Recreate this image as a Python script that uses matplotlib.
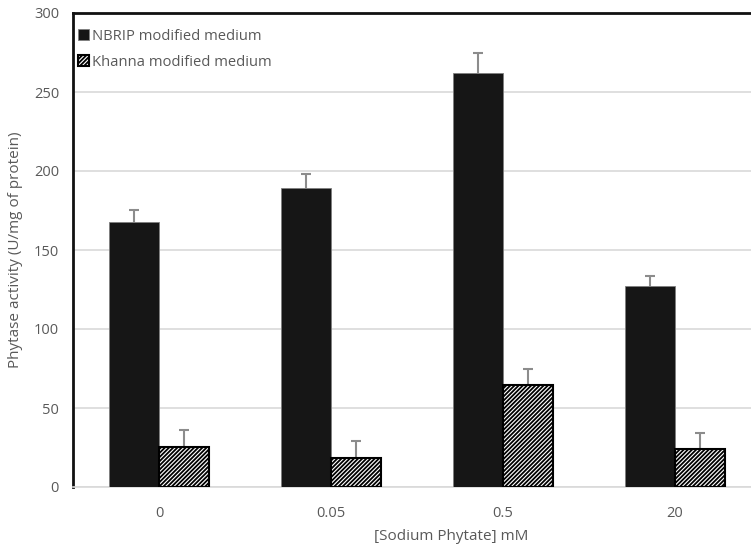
import numpy as np
import matplotlib
matplotlib.use("Agg")
import matplotlib.pyplot as plt

plt.rcParams["font.family"] = ["Open Sans", "DejaVu Sans"]
plt.rcParams["hatch.linewidth"] = 1.3

categories = ["0", "0.05", "0.5", "20"]
nbrip = [167.5, 189.3, 261.8, 127.5]
nbrip_err = [7.6, 9.0, 13.0, 6.2]
khanna = [25.6, 18.6, 64.4, 23.8]
khanna_err = [10.2, 10.2, 10.5, 10.6]

GRAY = "#595959"
ERR = "#8c8c8c"

fig = plt.figure(figsize=(7.51, 5.5), dpi=100)
ax = fig.add_axes([73 / 751, 1 - 487 / 550, 688 / 751, 474 / 550])

x = np.arange(len(categories))
w = 0.29
ax.bar(x - w / 2, nbrip, w, color="#161616", edgecolor="#7f7f7f", linewidth=0.6,
       label="NBRIP modified medium", zorder=3)
ax.bar(x + w / 2, khanna, w, color="white", edgecolor="black", hatch="////////",
       linewidth=1.5, label="Khanna modified medium", zorder=3)

# upper error bars only (stem + top cap)
for xs, ys, es in [(x - w / 2, nbrip, nbrip_err), (x + w / 2, khanna, khanna_err)]:
    tops = np.array(ys) + np.array(es)
    ax.vlines(xs, ys, tops, color=ERR, linewidth=1.5, zorder=2.5)
    ax.scatter(xs, tops, marker="_", s=55, color=ERR, linewidths=1.5, zorder=2.5)

ax.set_xlim(-0.5, 3.5)
ax.set_ylim(0, 300)
ax.set_yticks(range(0, 301, 50))
ax.set_xticks(x, categories)
ax.grid(axis="y", color="#d9d9d9", linewidth=1.2, zorder=0)
ax.set_axisbelow(True)
ax.tick_params(length=0, colors=GRAY, labelsize=10.5, pad=10)
ax.tick_params(axis="x", pad=14)
for s in ["left", "top"]:
    ax.spines[s].set_color("#111111")
    ax.spines[s].set_linewidth(2)
ax.spines["right"].set_visible(False)
ax.spines["bottom"].set_color("#d9d9d9")
ax.spines["bottom"].set_linewidth(1.2)

ax.set_ylabel("Phytase activity (U/mg of protein)", color=GRAY, fontsize=11, labelpad=8)
fig.text(451 / 751, 1 - 536 / 550, "[Sodium Phytate] mM", color=GRAY, fontsize=11,
         ha="center", va="center")

leg = ax.legend(loc="upper left", bbox_to_anchor=(-0.005, 0.985), frameon=False,
                fontsize=10.6, handlelength=0.75, handleheight=0.75, handletextpad=0.2,
                labelspacing=0.75, borderaxespad=0.2)
for t in leg.get_texts():
    t.set_color(GRAY)

fig.savefig("out.png", dpi=100)
